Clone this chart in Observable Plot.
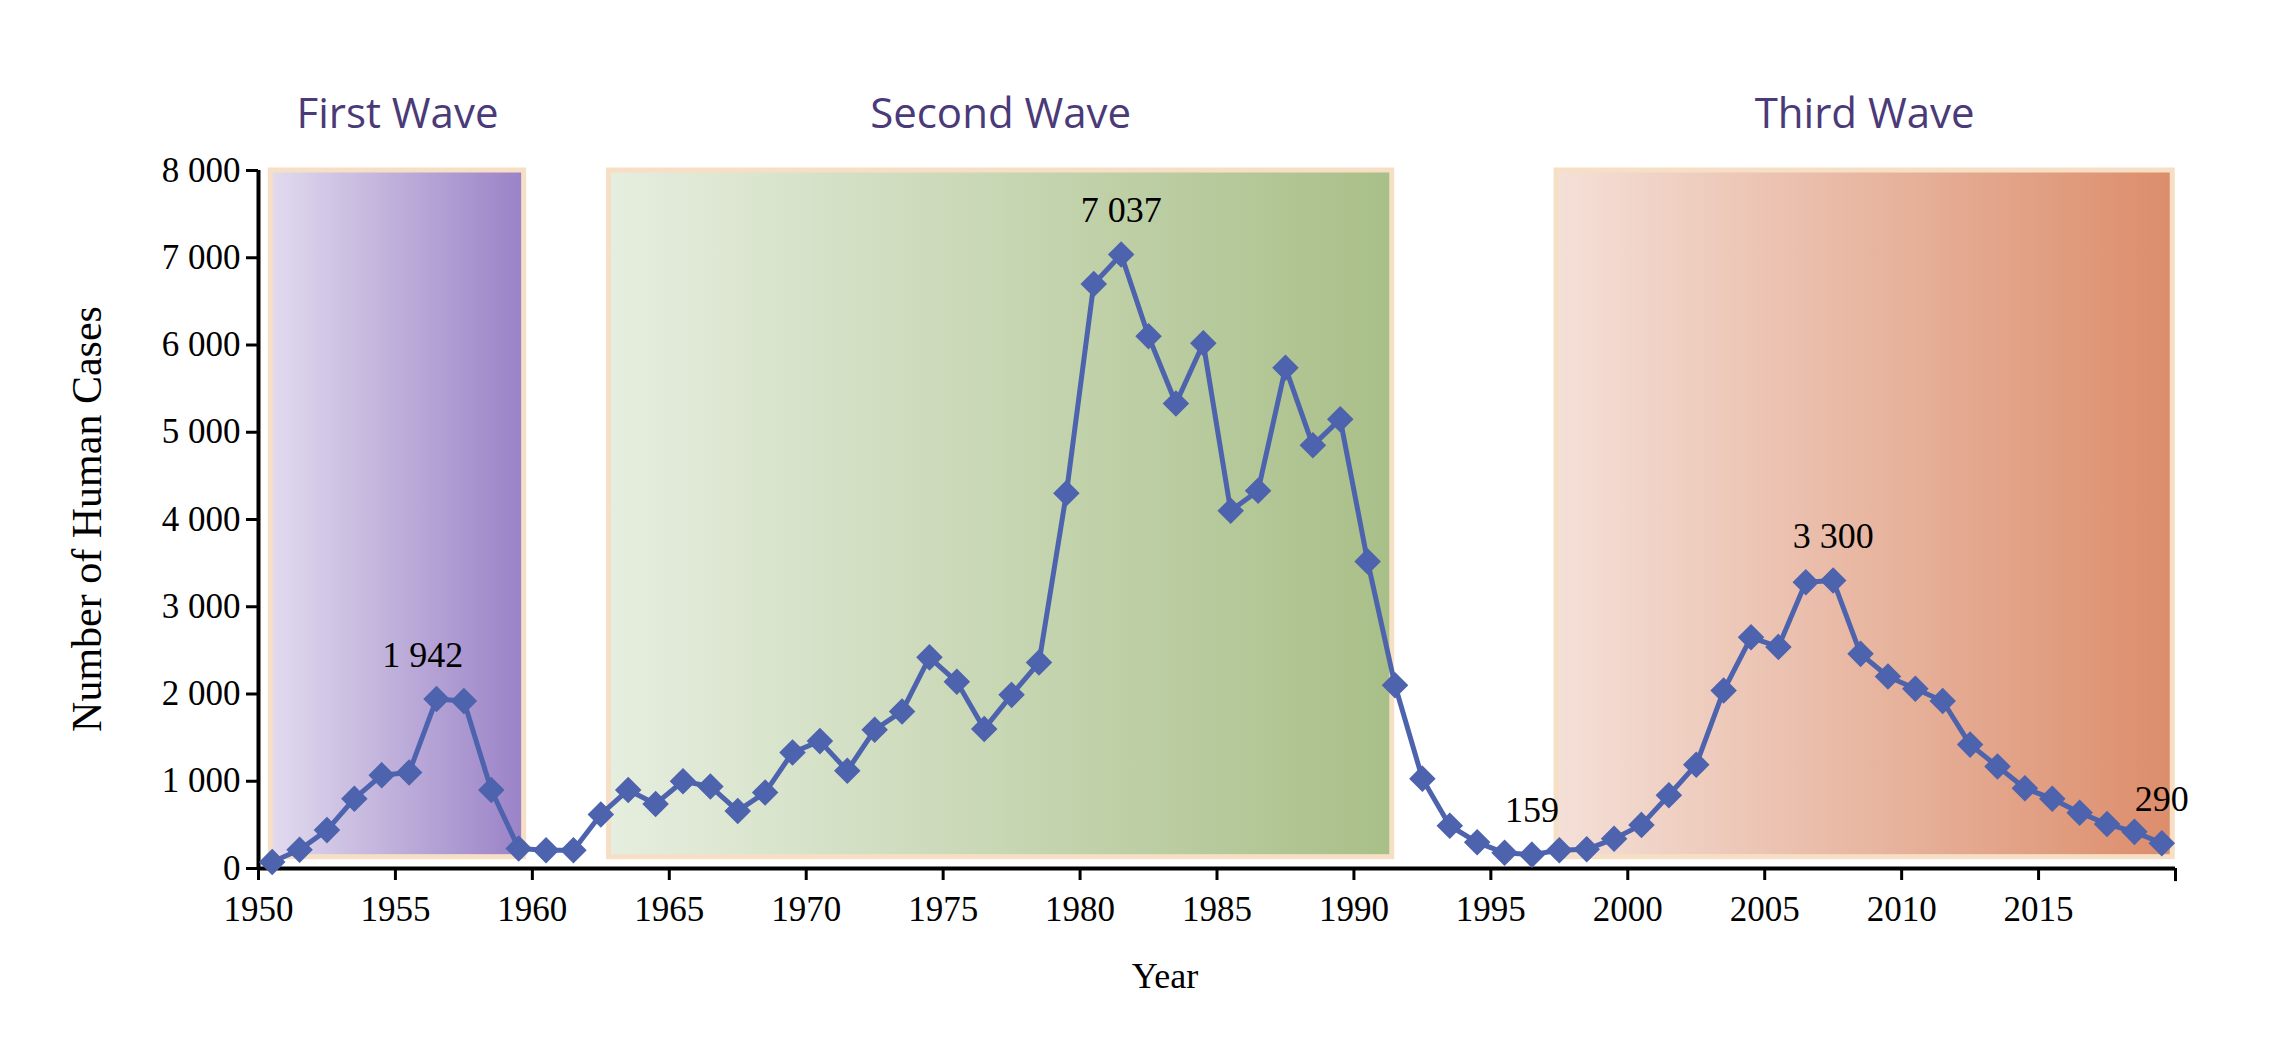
<!DOCTYPE html>
<html><head><meta charset="utf-8">
<script src="https://cdn.jsdelivr.net/npm/d3@7"></script>
<script src="https://cdn.jsdelivr.net/npm/@observablehq/plot@0.6"></script>
<style>body{margin:0;background:#fff}</style>
</head><body><div id="c"></div>
<script>
const years = d3.range(1950, 2020);
const cases = [75,215,440,800,1070,1100,1942,1920,900,230,
210,210,620,900,740,1000,940,660,870,1330,
1460,1120,1590,1800,2420,2140,1600,1990,2360,4300,
6700,7037,6100,5330,6020,4100,4330,5740,4850,5150,
3520,2100,1030,490,300,180,159,210,220,340,
500,840,1190,2040,2650,2540,3280,3300,2460,2200,
2060,1920,1420,1170,920,800,640,510,420,290];
const waveNames = ["First Wave","Second Wave","Third Wave"];
const waveStart = [1950.45,1962.8,1997.4];
const waveEnd = [1959.7,1991.4,2019.9];
const waveGrad = ["g1","g2","g3"];
const labelYears = [1956,1981,1996,2007,2019];
const labelTexts = ["1 942","7 037","159","3 300","290"];
const xTicks = d3.range(1950, 2016, 5);
const yTicks = d3.range(0, 8001, 1000);

const data = years.map((y,i)=>({x:y+0.5, v:cases[i]}));
const waves = waveNames.map((n,i)=>({n, x1:waveStart[i], x2:waveEnd[i], g:waveGrad[i]}));
const labels = labelYears.map((y,i)=>({x:y+0.5 + (i===0?-0.5:0), v:cases[years.indexOf(y)], t:labelTexts[i]}));
const fmt = d => d===0 ? "0" : d3.format(",")(d).replace(/,/g," ");
const serif = "'Liberation Serif','Times New Roman',serif";
const T=170, B=868;

const chart = Plot.plot({
  width: 2282, height: 1042,
  marginLeft: 258, marginRight: 107, marginTop: T, marginBottom: 1042-B,
  style: {fontFamily: serif, fontSize: "35px", color: "#000", background: "#fff"},
  x: {domain: [1950, 2020], label: null},
  y: {domain: [0, 8000], label: null},
  marks: [
    Plot.rect(waves, {x1:"x1", x2:"x2", y1:130, y2:8000, fill: d=>`url(#${d.g})`, stroke:"#f6dfc4", strokeWidth:5}),
    Plot.text(waves, {x: d=>(d.x1+d.x2)/2, y:8000, text:"n", dy:-56, fill:"#4b3a78", fontSize:42, fontFamily:"'Open Sans','Noto Sans',sans-serif"}),
    Plot.axisX({ticks: xTicks, tickFormat: d=>String(d), tickSize: 12, tickPadding: 16, fontSize: 35, strokeWidth: 3}),
    Plot.axisY({ticks: yTicks, tickFormat: fmt, tickSize: 12, tickPadding: 6, fontSize: 35, strokeWidth: 3}),
    Plot.ruleY([0], {stroke:"#000", strokeWidth:4}),
    Plot.ruleX([1950], {stroke:"#000", strokeWidth:4}),
    Plot.ruleX([2020], {y1:0, y2:-150, stroke:"#000", strokeWidth:3}),
    Plot.line(data, {x:"x", y:"v", stroke:"#4e63ad", strokeWidth:5}),
    Plot.dot(data, {x:"x", y:"v", symbol:"diamond2", r:11, fill:"#4e63ad", stroke:"#4e63ad"}),
    Plot.text(labels, {x:"x", y:"v", text:"t", dy:-44, fontSize:36, fill:"#000"})
  ]
});
const svg = d3.select(chart);
const defs = svg.insert("defs", ":first-child");
const gr = [["g1","#e2dbee","#9a82c7"],["g2","#e6eedf","#a9bf88"],["g3","#f4e0d8","#dc8d6b"]];
gr.forEach(([id,a,b])=>{
  const g = defs.append("linearGradient").attr("id",id).attr("x1","0").attr("x2","1").attr("y1","0").attr("y2","0");
  g.append("stop").attr("offset","0").attr("stop-color",a);
  g.append("stop").attr("offset","1").attr("stop-color",b);
});
svg.append("text").attr("x",91).attr("y",(T+B)/2).attr("transform",`rotate(-90,91,${(T+B)/2})`)
  .attr("text-anchor","middle").attr("dominant-baseline","middle").style("font-family",serif).style("font-size","42px").text("Number of Human Cases");
svg.append("text").attr("x",1165).attr("y",988).attr("text-anchor","middle").style("font-family",serif).style("font-size","36px").text("Year");
document.getElementById("c").appendChild(chart);
</script></body></html>
